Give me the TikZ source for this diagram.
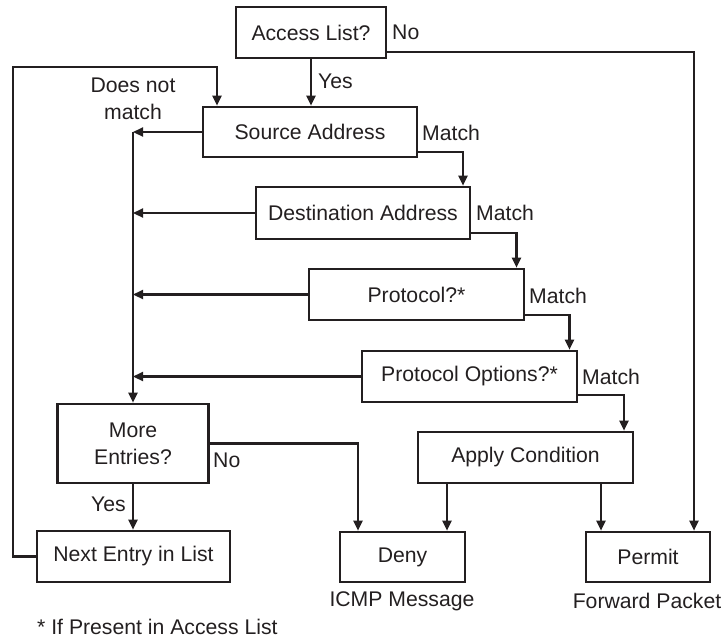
\documentclass[tikz,border=0pt]{standalone}
\usepackage{fontspec}
\setmainfont{Liberation Sans}
\usetikzlibrary{arrows.meta}
\definecolor{ink}{HTML}{231F20}
\begin{document}
\begin{tikzpicture}[x=1pt,y=-1pt,
  font=\fontsize{21.2}{27}\selectfont, color=ink, text=ink,
  box/.style={draw=ink, line width=2.6pt, rectangle, inner sep=0pt, align=center},
  arr/.style={draw=ink, line width=2.2pt, -{Triangle[length=10pt,width=9pt]}},
  lbl/.style={inner sep=0pt, align=center}]
\useasboundingbox (0,0) rectangle (724,638);
% boxes
\node[box, minimum width=150pt, minimum height=51pt] (acl) at (311,32.5) {Access List?};
\node[box, minimum width=214pt, minimum height=50pt] (src) at (310,132) {Source Address};
\node[box, minimum width=214pt, minimum height=52pt] (dst) at (363,213) {Destination Address};
\node[box, minimum width=215pt, minimum height=51pt] (proto) at (416.5,294.5) {Protocol?*};
\node[box, minimum width=215pt, minimum height=51pt] (opts) at (469.5,376.5) {Protocol Options?*};
\node[box, minimum width=215pt, minimum height=51pt] (apply) at (525.5,457.5) {Apply Condition};
\node[box, minimum width=151pt, minimum height=79pt] (more) at (133,443.5) {More\\Entries?};
\node[box, minimum width=193pt, minimum height=51pt] (next) at (133.5,556.5) {Next Entry in List};
\node[box, minimum width=125pt, minimum height=50pt] (deny) at (402.5,557) {Deny};
\node[box, minimum width=124pt, minimum height=50pt] (permit) at (648,557) {Permit};
% helper coordinates
\coordinate (col) at (133,0);
\coordinate (loop) at (13,67);
% main flow
\draw[arr] (acl.south) -- (acl.south |- src.north);
\draw[arr] ([yshift=7pt]acl.south east) -| ([xshift=46pt]permit.north);
\draw[arr] ([yshift=6pt]src.south east) -| ([xshift=100pt]dst.north);
\draw[arr] ([yshift=7pt]dst.south east) -| ([xshift=100pt]proto.north);
\draw[arr] ([yshift=6pt]proto.south east) -| ([xshift=100pt]opts.north);
\draw[arr] ([yshift=8pt]opts.south east) -| ([xshift=98.5pt]apply.north);
% does not match
\draw[arr] (src.west) -- (src.west -| col);
\draw[arr] (dst.west) -- (dst.west -| col);
\draw[arr] (proto.west) -- (proto.west -| col);
\draw[arr] (opts.west) -- (opts.west -| col);
\draw[arr] (src.west -| col) -- (more.north);
% more entries
\draw[arr] (more.south) -- (more.south |- next.north);
\draw[arr] (more.east) -| ([xshift=-44.5pt]deny.north);
\draw[arr] (next.west) -| (loop) -| ([xshift=-93pt]src.north);
% apply
\draw[arr] ([xshift=-78.5pt]apply.south) -- ([xshift=-78.5pt]apply.south |- deny.north);
\draw[arr] ([xshift=75.5pt]apply.south) -- ([xshift=75.5pt]apply.south |- permit.north);
% labels
\node[lbl, anchor=west] (lno1) at (392,32) {No};
\node[lbl, anchor=west] (lyes1) at (318,81) {Yes};
\node[lbl] (ldnm) at (133,99) {Does not\\match};
\node[lbl, anchor=west] (lm1) at (422,133) {Match};
\node[lbl, anchor=west] (lm2) at (476,213) {Match};
\node[lbl, anchor=west] (lm3) at (529,296) {Match};
\node[lbl, anchor=west] (lm4) at (582,377) {Match};
\node[lbl, anchor=west] (lno2) at (213,460) {No};
\node[lbl, anchor=east] (lyes2) at (126,504) {Yes};
\node[lbl] (licmp) at (402,601) {ICMP Message};
\node[lbl] (lfwd) at (647,601) {Forward Packet};
\node[lbl, anchor=west] (lfoot) at (37,627) {* If Present in Access List};
\end{tikzpicture}
\end{document}
